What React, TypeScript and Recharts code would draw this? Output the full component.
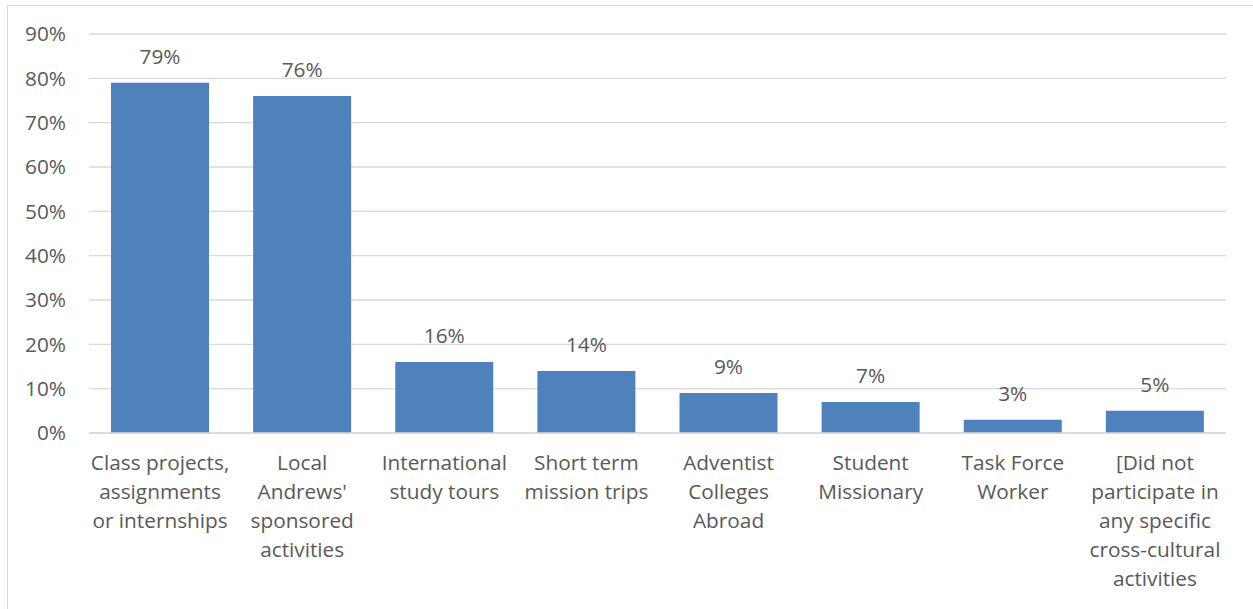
import React from "react";
import {
  Bar,
  BarChart,
  CartesianGrid,
  LabelList,
  XAxis,
  YAxis,
} from "recharts";

const categories = [
  "Class projects,\nassignments\nor internships",
  "Local\nAndrews'\nsponsored\nactivities",
  "International\nstudy tours",
  "Short term\nmission trips",
  "Adventist\nColleges\nAbroad",
  "Student\nMissionary",
  "Task Force\nWorker",
  "[Did not\nparticipate in\nany specific\ncross-cultural\nactivities",
];
const percents = [79, 76, 16, 14, 9, 7, 3, 5];
const yTicks = [0, 10, 20, 30, 40, 50, 60, 70, 80, 90];

const data = categories.map((name, i) => ({ name, value: percents[i] }));

const TEXT = "#595959";
const FONT = "'Open Sans', sans-serif";
const FS = 20.8;

function CategoryTick(props: any) {
  const { x, y, payload } = props;
  const lines = String(payload.value).split("\n");
  return (
    <text x={x} y={y} textAnchor="middle" fill={TEXT} fontSize={FS} fontFamily={FONT}>
      {lines.map((line, i) => (
        <tspan key={i} x={x} dy={i === 0 ? 35 : 29}>
          {line}
        </tspan>
      ))}
    </text>
  );
}

export default function App() {
  return (
    <div
      style={{
        position: "absolute",
        left: 7,
        top: 5,
        width: 1260,
        height: 620,
        borderLeft: "1px solid #d9d9d9",
        borderTop: "1px solid #d9d9d9",
        background: "#fff",
      }}
    >
      <BarChart
        width={1246}
        height={604}
        data={data}
        margin={{ top: 28, right: 28, bottom: 0, left: 0 }}
        barSize={98}
      >
        <CartesianGrid vertical={false} stroke="#d9d9d9" strokeWidth={1.3} />
        <XAxis
          dataKey="name"
          interval={0}
          height={177}
          tickLine={false}
          tickSize={0}
          axisLine={{ stroke: "#d9d9d9", strokeWidth: 1.3 }}
          tick={<CategoryTick />}
        />
        <YAxis
          width={81}
          domain={[0, 90]}
          ticks={yTicks}
          tickFormatter={(v) => `${v}%`}
          axisLine={false}
          tickLine={false}
          tickSize={0}
          tickMargin={23}
          tick={{ fill: TEXT, fontSize: FS, fontFamily: FONT }}
        />
        <Bar dataKey="value" fill="#4f81bd" isAnimationActive={false}>
          <LabelList
            dataKey="value"
            position="top"
            offset={19}
            formatter={(v: any) => `${v}%`}
            fill={TEXT}
            fontSize={FS}
            fontFamily={FONT}
          />
        </Bar>
      </BarChart>
    </div>
  );
}
